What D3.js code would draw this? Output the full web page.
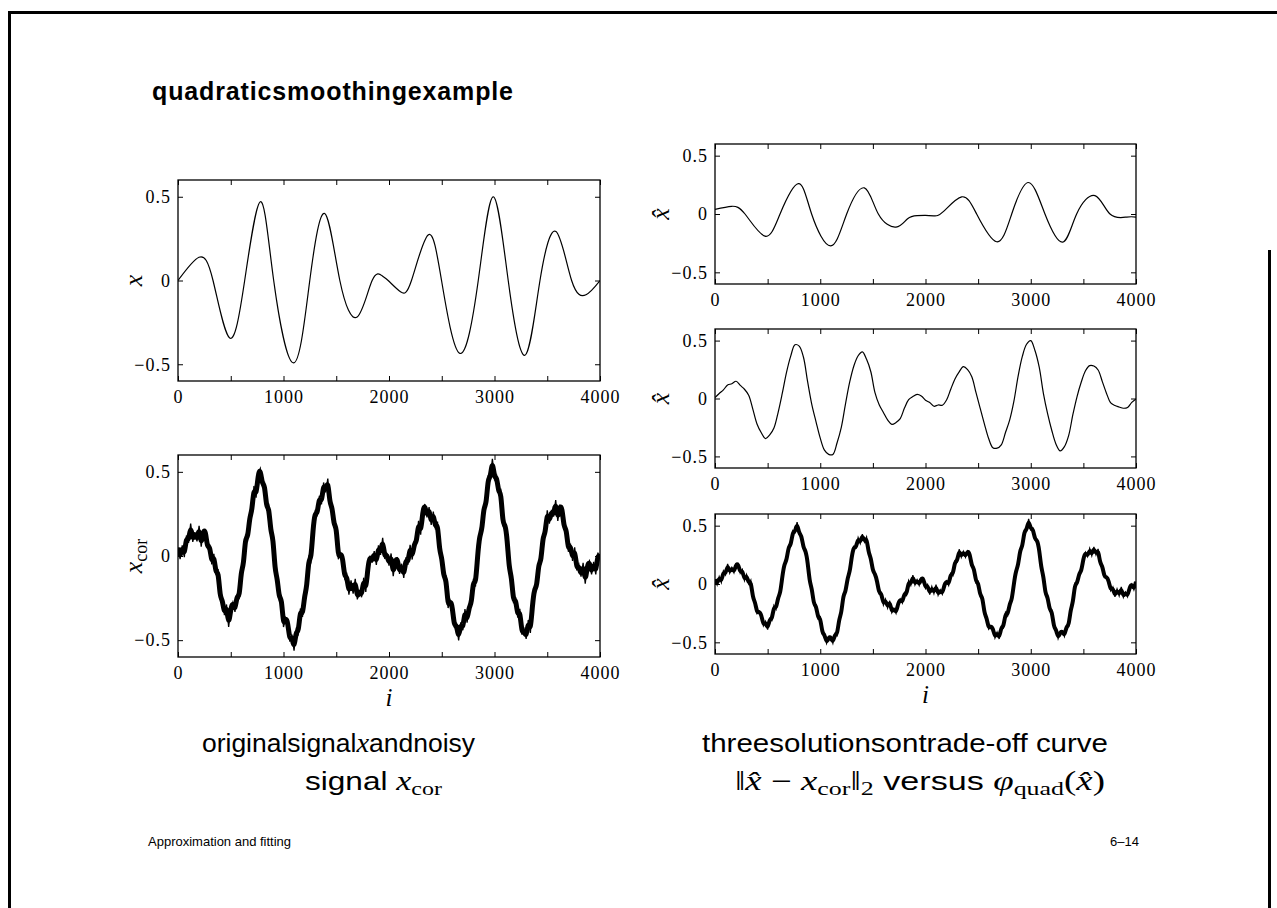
<!DOCTYPE html>
<html>
<head>
<meta charset="utf-8">
<script src="https://cdn.jsdelivr.net/npm/d3@7"></script>
<style>
  body { margin: 0; background: #fff; }
  svg { display: block; }
  .tick text { font-family: "Liberation Serif", serif; font-size: 18px; letter-spacing: 1px; fill: #000; }
  .tick line { stroke: #000; stroke-width: 1; }
  .sans { font-family: "Liberation Sans", Arial, sans-serif; }
  .serif { font-family: "Liberation Serif", serif; }
</style>
</head>
<body>
<svg id="chart" width="1277" height="908"></svg>
<script>
// ticks shared by all five panels
const xTicks = [0, 500, 1000, 1500, 2000, 2500, 3000, 3500, 4000];
const xTickLabels = [0, 1000, 2000, 3000, 4000];
const yTicks = [-0.5, 0, 0.5];

// original signal x : zero crossings and extrema
const origIdx = [0, 199, 332, 490, 632, 781, 907, 1097, 1249, 1391, 1534, 1698, 1840, 1935, 1992, 2109,
  2213, 2371, 2498, 2672, 2846, 2988, 3130, 3289, 3431, 3583, 3731, 3867, 4000];
const origVal = [0, 0.139, 0, -0.343, 0, 0.47, 0, -0.492, 0, 0.40, 0, -0.218, 0, 0.028, 0, -0.067,
  0, 0.272, 0, -0.435, 0, 0.50, 0, -0.446, 0, 0.292, 0, -0.085, 0];

// heavily smoothed solution (top right)
const smoothIdx = [0, 158, 285, 475, 618, 792, 918, 1099, 1251, 1419, 1552, 1720, 1830, 1920, 2000, 2080,
  2169, 2344, 2486, 2676, 2819, 2977, 3135, 3303, 3436, 3610, 3753, 3911, 4000];
const smoothVal = [0.04, 0.066, 0, -0.19, 0, 0.26, 0, -0.273, 0, 0.224, 0, -0.112, -0.04, -0.014, -0.012, -0.016,
  0.02, 0.147, 0, -0.238, 0, 0.27, 0, -0.241, 0, 0.158, 0, -0.026, -0.026];

// lightly smoothed solution (middle right), every 40 samples
const midVal = [
  .008,.043,.074,.117,.127,.149,.113,.080,.028,-.094,
  -.222,-.296,-.346,-.314,-.255,-.119,.048,.228,.368,.464,
  .452,.358,.145,-.053,-.201,-.342,-.446,-.482,-.483,-.382,
  -.249,-.046,.143,.283,.369,.403,.338,.233,.051,-.054,
  -.121,-.185,-.223,-.207,-.174,-.083,-.010,.017,.035,.022,
  -.015,-.035,-.067,-.056,-.058,-.013,.080,.169,.230,.275,
  .250,.188,.050,-.086,-.221,-.346,-.425,-.429,-.400,-.294,
  -.185,-.023,.193,.363,.468,.500,.414,.272,.045,-.131,
  -.276,-.394,-.452,-.415,-.320,-.140,.017,.142,.240,.284,
  .280,.246,.146,.044,-.038,-.061,-.073,-.084,-.077,-.034,
  -.005];

// noisy signal x_cor (bottom left), every 20 samples
const corVal = [
  .05,-.018,.063,-.007,.122,.078,.192,.084,.142,.087,
  .179,.055,.153,.154,.040,.071,-.050,.013,-.114,-.077,
  -.254,-.253,-.351,-.288,-.421,-.311,-.274,-.332,-.225,-.257,
  -.079,-.066,.120,.097,.238,.259,.416,.347,.489,.520,
  .417,.435,.278,.300,.135,.121,-.093,-.123,-.259,-.239,
  -.422,-.366,-.388,-.509,-.467,-.562,-.438,-.464,-.312,-.362,
  -.229,-.195,-.006,-.032,.165,.264,.243,.358,.307,.437,
  .378,.460,.303,.301,.173,.186,-.019,.017,-.004,-.133,
  -.109,-.230,-.145,-.224,-.135,-.258,-.202,-.245,-.129,-.214,
  -.063,.002,-.040,.029,-.053,.063,.007,.108,-.018,.019,
  -.057,.015,-.120,-.023,-.012,-.106,-.046,-.130,-.008,-.052,
  .067,-.021,.082,.073,.209,.127,.268,.309,.230,.290,
  .185,.264,.158,.204,.020,.002,-.136,-.121,-.309,-.263,
  -.296,-.428,-.397,-.502,-.394,-.441,-.315,-.396,-.294,-.293,
  -.135,-.181,.007,.127,.145,.301,.293,.472,.456,.578,
  .455,.479,.369,.390,.182,.193,.105,-.084,-.111,-.281,
  -.244,-.366,-.314,-.468,-.434,-.493,-.380,-.457,-.285,-.189,
  -.190,-.034,-.043,.126,.122,.271,.192,.274,.234,.332,
  .208,.300,.291,.160,.171,.025,.074,-.029,.052,-.086,
  -.051,-.123,-.041,-.165,-.054,-.029,-.109,-.035,-.109,.020,
  -.020];

// weakly smoothed solution (bottom right), every 20 samples
const roughVal = [
  .040,-.008,.063,.013,.112,.078,.172,.094,.142,.097,
  .169,.175,.093,.124,.030,.081,.000,.033,-.124,-.147,
  -.254,-.233,-.261,-.358,-.321,-.391,-.294,-.312,-.185,-.217,
  -.109,-.086,.070,.177,.198,.329,.326,.457,.439,.530,
  .427,.425,.308,.290,.195,.011,-.033,-.183,-.179,-.299,
  -.282,-.426,-.428,-.509,-.457,-.452,-.508,-.424,-.442,-.292,
  -.259,-.085,-.076,.058,.095,.244,.323,.308,.397,.347,
  .428,.360,.403,.261,.233,.106,.091,.027,-.084,-.073,
  -.179,-.130,-.205,-.144,-.245,-.208,-.252,-.165,-.129,-.164,
  -.073,-.098,.030,-.011,.077,-.007,.037,-.012,.052,.049,
  -.037,-.005,-.090,-.023,-.082,-.006,-.096,-.050,-.088,-.002,
  .027,-.011,.092,.073,.199,.187,.298,.229,.280,.230,
  .285,.264,.148,.144,.010,.022,-.106,-.101,-.259,-.283,
  -.386,-.358,-.377,-.462,-.414,-.471,-.365,-.376,-.244,-.273,
  -.165,-.141,.007,.117,.155,.301,.313,.462,.456,.558,
  .465,.479,.379,.380,.302,.133,.075,-.094,-.101,-.231,
  -.224,-.376,-.384,-.468,-.414,-.403,-.450,-.357,-.365,-.209,
  -.170,.006,-.003,.096,.102,.221,.272,.234,.304,.242,
  .318,.250,.301,.170,.161,.055,.064,.031,-.058,-.026,
  -.111,-.043,-.101,-.025,-.114,-.069,-.109,-.025,.001,-.050,
  .020];

const idx20 = d3.range(0, 4001, 20);
const idx40 = d3.range(0, 4001, 40);

const svg = d3.select('#chart');

// slide frame
svg.append('path')
  .attr('d', 'M9.5,908 V12.5 H1277 M1269.5,250 V908')
  .attr('fill', 'none').attr('stroke', '#000').attr('stroke-width', 3);

svg.append('text').attr('class', 'sans')
  .attr('x', 152).attr('y', 100)
  .attr('font-size', 25).attr('font-weight', 'bold')
  .attr('textLength', 361)
  .text('quadraticsmoothingexample');

const fmt = d => d < 0 ? '\u2212' + Math.abs(d) : String(d);

function panel(box, idx, vals, opts) {
  const x = d3.scaleLinear().domain([0, 4000]).range([box.left, box.right]);
  const y = d3.scaleLinear().domain([-0.6, 0.6]).range([box.bottom, box.top]);
  const g = svg.append('g');
  const clipId = 'clip' + box.top;
  g.append('clipPath').attr('id', clipId).append('rect')
    .attr('x', box.left).attr('y', box.top)
    .attr('width', box.right - box.left).attr('height', box.bottom - box.top);

  const pts = idx.map((d, i) => [d, vals[i]]);
  const line = d3.line().x(d => x(d[0])).y(d => y(d[1]));

  if (opts.noisy) {
    // dense core of the noisy band
    g.append('path').datum(pts)
      .attr('clip-path', `url(#${clipId})`)
      .attr('d', line.curve(d3.curveBasis))
      .attr('fill', 'none').attr('stroke', '#000').attr('stroke-width', opts.core);
    g.append('path').datum(pts)
      .attr('clip-path', `url(#${clipId})`)
      .attr('d', line.curve(d3.curveLinear))
      .attr('fill', 'none').attr('stroke', '#000').attr('stroke-width', 1.3);
  } else {
    g.append('path').datum(pts)
      .attr('clip-path', `url(#${clipId})`)
      .attr('d', line.curve(opts.curve))
      .attr('fill', 'none').attr('stroke', '#000').attr('stroke-width', 1.2);
  }

  g.append('g').attr('transform', `translate(0,${box.bottom})`)
    .call(d3.axisBottom(x).tickValues(xTicks).tickSizeInner(-5).tickSizeOuter(0).tickPadding(9)
      .tickFormat(d => xTickLabels.includes(d) ? d : ''));
  g.append('g').attr('transform', `translate(0,${box.top})`)
    .call(d3.axisTop(x).tickValues(xTicks).tickSizeInner(-5).tickSizeOuter(0).tickFormat(''));
  g.append('g').attr('transform', `translate(${box.left},0)`)
    .call(d3.axisLeft(y).tickValues(yTicks).tickSizeInner(-5).tickSizeOuter(0).tickPadding(7).tickFormat(fmt));
  g.append('g').attr('transform', `translate(${box.right},0)`)
    .call(d3.axisRight(y).tickValues(yTicks).tickSizeInner(-5).tickSizeOuter(0).tickFormat(''));
  g.selectAll('.domain').remove();

  g.append('rect')
    .attr('x', box.left).attr('y', box.top)
    .attr('width', box.right - box.left).attr('height', box.bottom - box.top)
    .attr('fill', 'none').attr('stroke', '#000').attr('stroke-width', 1.3);

  // y label, rotated
  const cy = (box.top + box.bottom) / 2;
  const lab = g.append('text').attr('class', 'serif')
    .attr('transform', `translate(${box.left - opts.labelOff},${cy}) rotate(-90)`)
    .attr('text-anchor', 'middle').attr('font-size', 26);
  lab.append('tspan').attr('font-style', 'italic').text(opts.ylabel);
  if (opts.ysub) {
    lab.append('tspan').attr('font-size', 18).attr('dy', 5).text(opts.ysub);
  }

  if (opts.xlabel) {
    g.append('text').attr('class', 'serif')
      .attr('x', (box.left + box.right) / 2).attr('y', box.bottom + 49)
      .attr('text-anchor', 'middle').attr('font-size', 25).attr('font-style', 'italic')
      .text(opts.xlabel);
  }
}

panel({left: 178, right: 600, top: 180, bottom: 381}, origIdx, origVal,
  {curve: d3.curveNatural, ylabel: 'x', labelOff: 36});
panel({left: 178, right: 600, top: 455, bottom: 657}, idx20, corVal,
  {noisy: true, core: 5, ylabel: 'x', ysub: 'cor', labelOff: 36, xlabel: 'i'});
panel({left: 715, right: 1136, top: 144, bottom: 284}, smoothIdx, smoothVal,
  {curve: d3.curveNatural, ylabel: 'x\u0302', labelOff: 46});
panel({left: 715, right: 1136, top: 329, bottom: 468}, idx40, midVal,
  {curve: d3.curveCatmullRom, ylabel: 'x\u0302', labelOff: 46});
panel({left: 715, right: 1136, top: 514, bottom: 654}, idx20, roughVal,
  {noisy: true, core: 4, ylabel: 'x\u0302', labelOff: 46, xlabel: 'i'});

// captions
function caption(x, y, len, parts) {
  const t = svg.append('text').attr('x', x).attr('y', y).attr('font-size', 25)
    .attr('textLength', len).attr('lengthAdjust', 'spacingAndGlyphs');
  parts.forEach(p => {
    const s = t.append('tspan').attr('class', p.serif ? 'serif' : 'sans').text(p.t);
    if (p.it) s.attr('font-style', 'italic');
    if (p.serif) s.attr('font-size', 27);
    if (p.sub) s.attr('font-size', 19);
    if (p.dy) s.attr('dy', p.dy);
  });
}
caption(202, 752, 273, [{t: 'originalsignal'}, {t: 'x', serif: true, it: true}, {t: 'andnoisy'}]);
caption(305, 790, 137, [{t: 'signal '}, {t: 'x', serif: true, it: true}, {t: 'cor', serif: true, sub: true, dy: 5}]);
caption(702, 752, 406, [{t: 'threesolutionsontrade-off curve'}]);
caption(735, 790, 370, [
  {t: '\u2016', serif: true}, {t: 'x\u0302', serif: true, it: true}, {t: ' \u2212 ', serif: true},
  {t: 'x', serif: true, it: true}, {t: 'cor', serif: true, sub: true, dy: 5},
  {t: '\u2016', serif: true, dy: -5}, {t: '2', serif: true, sub: true, dy: 5},
  {t: ' versus ', dy: -5}, {t: '\u03c6', serif: true, it: true},
  {t: 'quad', serif: true, sub: true, dy: 5}, {t: '(', serif: true, dy: -5},
  {t: 'x\u0302', serif: true, it: true}, {t: ')', serif: true}]);

// footer
svg.append('text').attr('class', 'sans').attr('x', 148).attr('y', 846)
  .attr('font-size', 13).text('Approximation and fitting');
svg.append('text').attr('class', 'sans').attr('x', 1110).attr('y', 846)
  .attr('font-size', 13).text('6\u201314');
</script>
</body>
</html>
